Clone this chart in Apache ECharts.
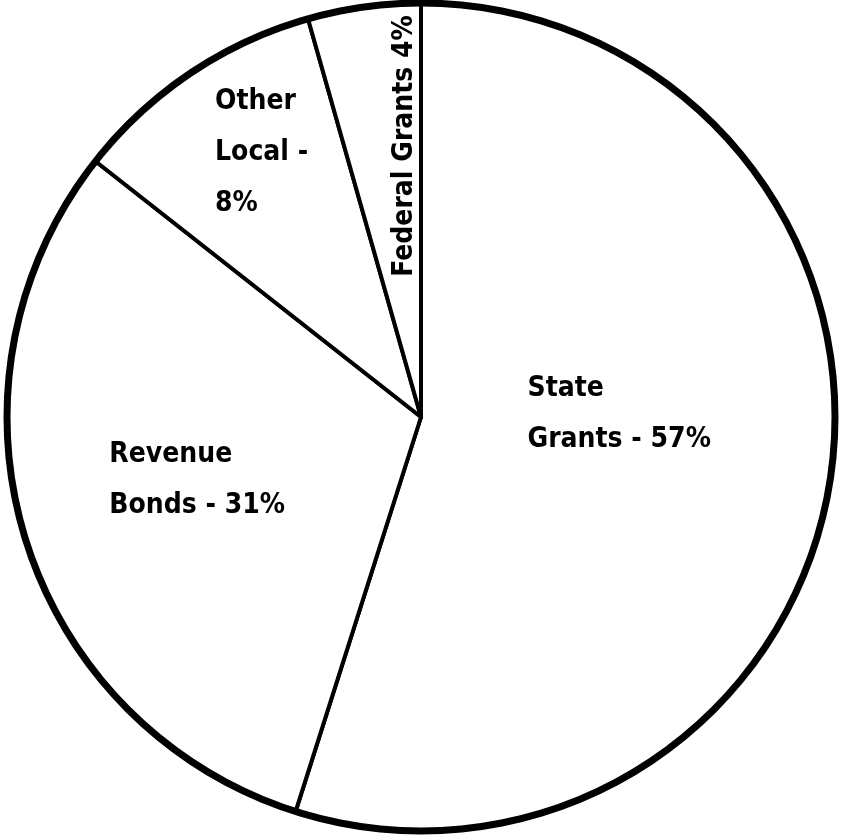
<!DOCTYPE html>
<html>
<head>
<meta charset="utf-8">
<script src="https://cdn.jsdelivr.net/npm/echarts@6/dist/echarts.min.js"></script>
<style>
  html, body { margin: 0; padding: 0; background: #ffffff; }
  #chart { width: 841px; height: 836px; }
</style>
</head>
<body>
<div id="chart"></div>
<script>
// ---- data (slice sizes as drawn; label text as printed) ----
var categories = ['State Grants', 'Revenue Bonds', 'Other Local', 'Federal Grants'];
var values = [54.9, 30.7, 10.0, 4.4];
var labelTexts = ['State\nGrants - 57%', 'Revenue\nBonds - 31%', 'Other\nLocal -\n8%', 'Federal Grants 4%'];

// ---- styling / label nudges (dx/dy are in the label's own rotated frame) ----
var labelNudge = [
  { dx: -101, dy: -35, align: 'left' },
  { dx: -111, dy: 1, align: 'left' },
  { dx: -89, dy: -90, align: 'left' },
  { dx: 63, dy: 13, align: 'center' }
];

var chart = echarts.init(document.getElementById('chart'), null, { renderer: 'canvas' });

var pieData = categories.map(function (name, i) {
  return {
    name: name,
    value: values[i],
    label: {
      formatter: labelTexts[i],
      rotate: i === 3 ? 90 : 0,
      fontSize: 28,
      lineHeight: 51
    }
  };
});

chart.setOption({
  backgroundColor: '#ffffff',
  animation: false,
  series: [
    {
      type: 'pie',
      center: [421, 417],
      radius: [0, 414],
      startAngle: 90,
      clockwise: true,
      silent: true,
      avoidLabelOverlap: false,
      itemStyle: { color: '#ffffff', borderColor: '#000000', borderWidth: 4 },
      label: {
        show: true,
        position: 'inside',
        color: '#000000',
        fontFamily: '"Liberation Sans Narrow", "DejaVu Sans Condensed", sans-serif',
        fontWeight: 'bold'
      },
      labelLine: { show: false },
      emphasis: { disabled: true },
      labelLayout: function (params) {
        var n = labelNudge[params.dataIndex];
        return { dx: n.dx, dy: n.dy, align: n.align, verticalAlign: 'middle' };
      },
      data: pieData
    },
    {
      type: 'pie',
      center: [421, 417],
      radius: [410.5, 417.5],
      silent: true,
      label: { show: false },
      labelLine: { show: false },
      emphasis: { disabled: true },
      itemStyle: { color: '#000000', borderWidth: 0 },
      data: [{ name: 'rim', value: 1 }]
    }
  ]
});
</script>
</body>
</html>
